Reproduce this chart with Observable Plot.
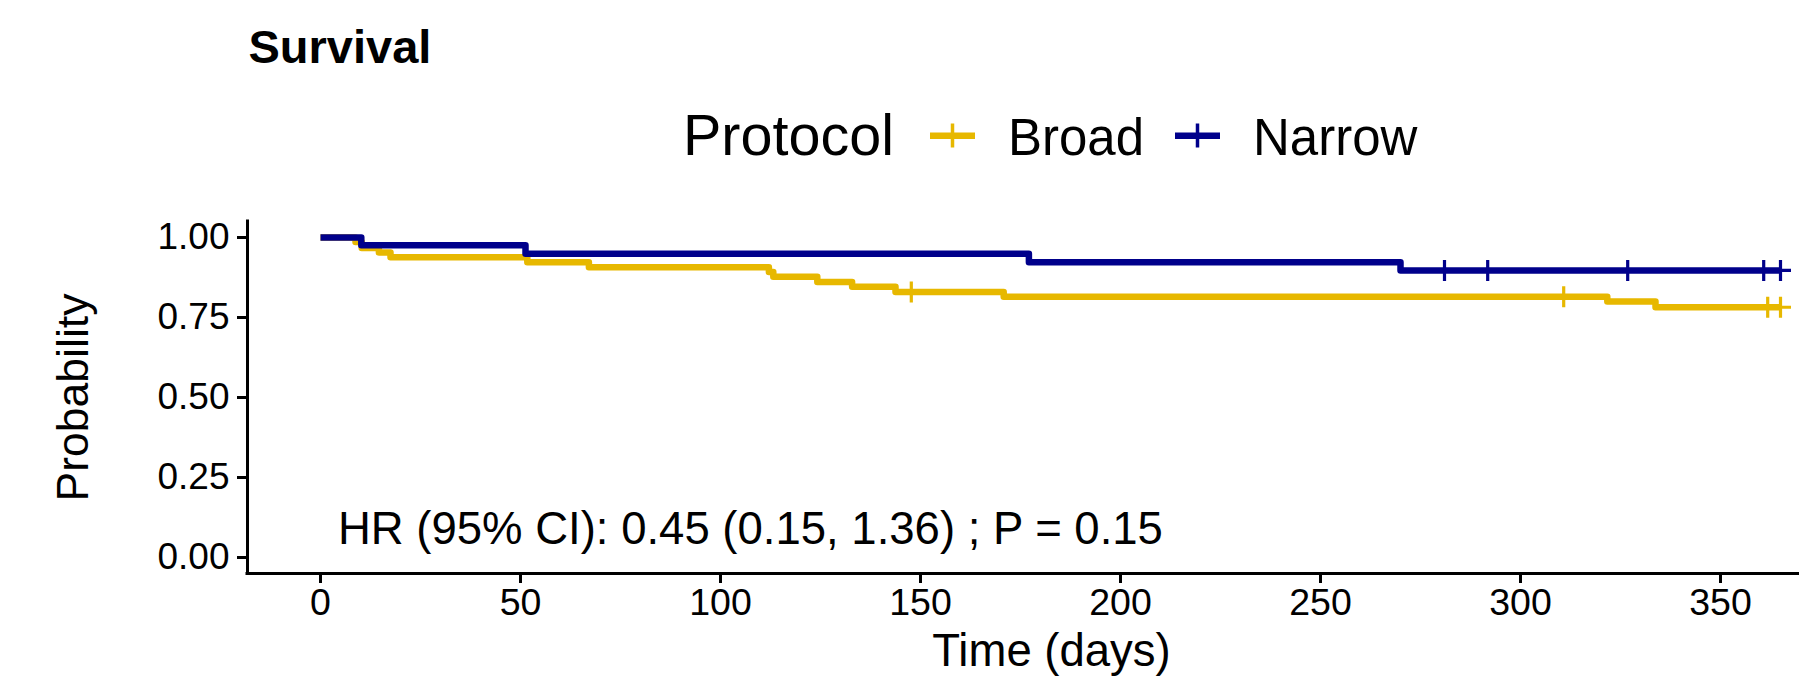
<!DOCTYPE html>
<html><head><meta charset="utf-8">
<script src="https://cdn.jsdelivr.net/npm/d3@7"></script>
<script src="https://cdn.jsdelivr.net/npm/@observablehq/plot@0.6"></script>
<style>
html,body{margin:0;padding:0;background:#fff;overflow:hidden;}
#chart{width:1799px;height:676px;font-family:"Liberation Sans",Arial,sans-serif;color:#000;}
#chart svg{display:block;overflow:hidden;}
</style></head><body><div id="chart"></div>
<script>
// ---- data ----
const groups = ["Broad", "Narrow"];
const colors = ["#E7B800", "#00008B"];
const broadTime = [0, 8.75, 10.3, 14.6, 17.5, 51.7, 67.1, 112.1, 113.2, 124.2, 132.9, 143.75, 170.8, 321.7, 333.75, 365];
const broadSurv = [1, 0.986, 0.967, 0.953, 0.938, 0.923, 0.907, 0.892, 0.877, 0.861, 0.846, 0.830, 0.815, 0.800, 0.782, 0.782];
const broadCensorTime = [147.7, 310.8, 361.8, 365];
const narrowTime = [0, 10.2, 51.25, 177.1, 270, 365];
const narrowSurv = [1, 0.976, 0.949, 0.923, 0.897, 0.897];
const narrowCensorTime = [281, 291.8, 326.8, 360.8, 365];
const xTicks = [0, 50, 100, 150, 200, 250, 300, 350];
const yTicks = [0, 0.25, 0.5, 0.75, 1];
const xDomain = [-18.25, 383.25];
const yDomain = [-0.05, 1.05];
const titleText = "Survival";
const legendTitle = "Protocol";
const xLabel = "Time (days)";
const yLabel = "Probability";
const annotation = "HR (95% CI): 0.45 (0.15, 1.36) ; P = 0.15";

// ---- build tables ----
const series = [
  {group: groups[0], time: broadTime, surv: broadSurv, censor: broadCensorTime},
  {group: groups[1], time: narrowTime, surv: narrowSurv, censor: narrowCensorTime}
];
function survAt(s, t) {
  let v = s.surv[0];
  for (let i = 0; i < s.time.length; i++) if (s.time[i] <= t) v = s.surv[i];
  return v;
}
const curveRows = series.flatMap(s => s.time.map((t, i) => ({group: s.group, time: t, surv: s.surv[i]})));
const censorRows = series.flatMap(s => s.censor.map(t => ({group: s.group, time: t, surv: survAt(s, t)})));

const plusSymbol = {
  draw(ctx, size) {
    const r = Math.sqrt(size / Math.PI);
    ctx.moveTo(-r, 0); ctx.lineTo(r, 0);
    ctx.moveTo(0, -r); ctx.lineTo(0, r);
  }
};

const W = 1799, headerH = 200, plotH = 476;
const root = d3.select("#chart");

// ---- header: title + legend ----
const header = root.append("svg").attr("width", W).attr("height", headerH)
  .style("font-family", '"Liberation Sans", Arial, sans-serif');
header.append("text").attr("x", 248.5).attr("y", 63).attr("font-size", 47).attr("font-weight", "bold").text(titleText);
header.append("text").attr("x", 683).attr("y", 155).attr("font-size", 57.5).text(legendTitle);
const keyX = [930, 1175];
const labelX = [1008, 1253];
groups.forEach((g, i) => {
  const k = header.append("g").attr("stroke", colors[i]);
  k.append("line").attr("x1", keyX[i]).attr("x2", keyX[i] + 45).attr("y1", 135.7).attr("y2", 135.7).attr("stroke-width", 6.5);
  k.append("line").attr("x1", keyX[i] + 22.5).attr("x2", keyX[i] + 22.5).attr("y1", 123.5).attr("y2", 147.5).attr("stroke-width", 3.5);
  header.append("text").attr("x", labelX[i]).attr("y", 155).attr("font-size", 51).text(g);
});

// ---- plot ----
const chart = Plot.plot({
  width: W,
  height: plotH,
  marginLeft: 247,
  marginRight: 0,
  marginTop: 21,
  marginBottom: 103,
  style: {fontFamily: '"Liberation Sans", Arial, sans-serif', color: "#000", background: "#fff"},
  x: {domain: xDomain, range: [247, 1853]},
  y: {domain: yDomain},
  color: {domain: groups, range: colors},
  marks: [
    Plot.axisX({ticks: xTicks, tickSize: 10, tickPadding: 5, fontSize: 37.5, strokeWidth: 3, label: null, tickFormat: d => String(d)}),
    Plot.axisY({ticks: yTicks, tickSize: 10, tickPadding: 8, fontSize: 37, strokeWidth: 3, label: null, tickFormat: d3.format(".2f")}),
    Plot.ruleX([xDomain[0]], {strokeWidth: 3, strokeLinecap: "square"}),
    Plot.ruleY([yDomain[0]], {strokeWidth: 3, strokeLinecap: "square"}),
    Plot.line(curveRows, {x: "time", y: "surv", z: "group", stroke: "group", curve: "step-after", strokeWidth: 6.5, strokeLinejoin: "round", strokeLinecap: "butt"}),
    Plot.dot(censorRows, {x: "time", y: "surv", stroke: "group", symbol: plusSymbol, r: 10.5, strokeWidth: 3.2, fill: "none"}),
    Plot.text([annotation], {frameAnchor: "bottom-left", textAnchor: "start", lineAnchor: "bottom", dx: 90.5, dy: -30, fontSize: 45.5, text: d => d}),
    Plot.text([xLabel], {frameAnchor: "bottom", textAnchor: "middle", lineAnchor: "bottom", dx: 28, dy: 92, fontSize: 45.5, text: d => d}),
    Plot.text([yLabel], {frameAnchor: "left", textAnchor: "middle", rotate: -90, lineAnchor: "middle", dx: -174, fontSize: 44.5, text: d => d})
  ]
});
root.node().appendChild(chart);
</script>
</body></html>
